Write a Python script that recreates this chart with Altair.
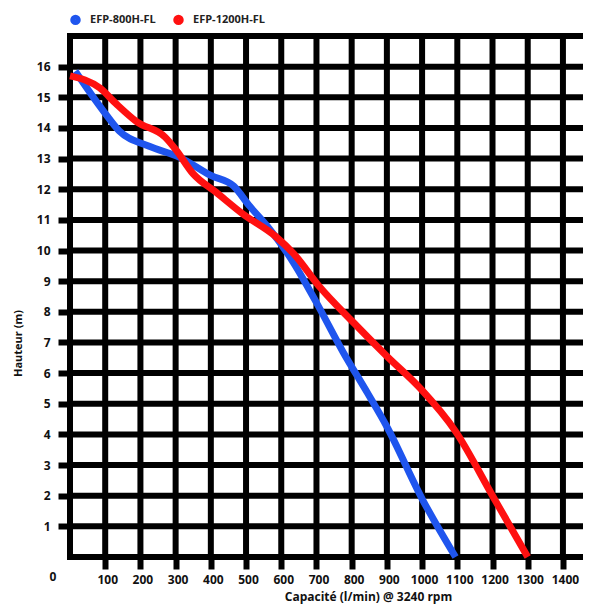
import altair as alt
import pandas as pd

# ---- data ----
series = ["EFP-800H-FL", "EFP-1200H-FL"]
colors = ["#1f55ee", "#ff1010"]

blue_x = [15, 95, 140, 225, 310, 400, 465, 510, 560, 635, 700, 775, 845, 900, 1000, 1095]
blue_y = [15.85, 14.55, 13.9, 13.4, 13.05, 12.45, 12.1, 11.45, 10.8, 9.6, 8.3, 6.7, 5.35, 4.25, 1.9, 0]

red_x = [0, 85, 130, 190, 270, 300, 350, 415, 490, 585, 635, 710, 805, 900, 995, 1095, 1200, 1300]
red_y = [15.7, 15.3, 14.8, 14.2, 13.7, 13.3, 12.5, 11.9, 11.2, 10.45, 9.9, 8.8, 7.65, 6.55, 5.5, 4.1, 2.0, 0]

x_ticks = list(range(100, 1500, 100))
y_ticks = list(range(1, 17))
x_grid = list(range(0, 1500, 100))
y_grid = list(range(0, 18))

FONT = "Open Sans"

df = pd.concat([
    pd.DataFrame({"x": blue_x, "y": blue_y, "s": series[0]}),
    pd.DataFrame({"x": red_x, "y": red_y, "s": series[1]}),
])

xscale = alt.Scale(domain=[0, 1457], nice=False, zero=False)
yscale = alt.Scale(domain=[0, 17], nice=False, zero=False)

xaxis = alt.Axis(
    values=x_ticks, format="d", title="Capacité (l/min) @ 3240 rpm",
    grid=False, domain=False, tickSize=12, tickWidth=6, tickColor="black",
    labelPadding=5, labelOffset=2, labelFontSize=12, labelFontWeight="bold",
    labelColor="#111", labelFont=FONT,
    titleFont=FONT, titleFontSize=12, titleFontWeight="bold", titleColor="#111",
    titleX=298, titleY=39, titleBaseline="middle", titleAnchor="start", titleAlign="center",
)
yaxis = alt.Axis(
    values=y_ticks, format="d", title="Hauteur (m)",
    grid=False, domain=False, tickSize=12, tickWidth=6, tickColor="black",
    labelPadding=8, labelFontSize=12, labelFontWeight="bold",
    labelColor="#111", labelFont=FONT,
    titleFont=FONT, titleFontSize=11, titleFontWeight="bold", titleColor="#111",
    titleX=-52, titleY=307, titleBaseline="middle", titleAnchor="start", titleAlign="center",
)

lines = alt.Chart(df).mark_line(strokeWidth=7, interpolate="monotone").encode(
    x=alt.X("x:Q", scale=xscale, axis=xaxis),
    y=alt.Y("y:Q", scale=yscale, axis=yaxis),
    color=alt.Color("s:N", scale=alt.Scale(domain=series, range=colors), sort=series,
                    legend=alt.Legend(title=None, orient="none", legendX=0, legendY=-22,
                                      direction="horizontal", symbolType="circle",
                                      symbolSize=30, symbolStrokeWidth=5,
                                      labelFontSize=11, labelFontWeight="bold",
                                      labelFont=FONT, labelColor="#222",
                                      columnPadding=9, labelOffset=9)),
)

hgrid = alt.Chart(pd.DataFrame({"y": y_grid})).mark_rule(
    color="black", strokeWidth=6, strokeCap="square"
).encode(y=alt.Y("y:Q", scale=yscale, axis=yaxis))

vgrid = alt.Chart(pd.DataFrame({"x": x_grid})).mark_rule(
    color="black", strokeWidth=6, strokeCap="square"
).encode(x=alt.X("x:Q", scale=xscale, axis=xaxis))

zero = alt.Chart(pd.DataFrame({"x": [0], "y": [0], "t": ["0"]})).mark_text(
    dx=-17, dy=20, fontSize=12, fontWeight="bold", font=FONT, color="#111"
).encode(x=alt.X("x:Q", scale=xscale, axis=xaxis),
         y=alt.Y("y:Q", scale=yscale, axis=yaxis), text="t:N")

chart = alt.layer(hgrid, vgrid, lines, zero).properties(
    width=513, height=521,
    autosize=alt.AutoSizeParams(type="none"),
    padding={"left": 62, "top": 28, "right": 0, "bottom": 48},
).configure_view(stroke=None).configure(background="white")

chart.save("out.html", embed_options={"renderer": "svg", "actions": False})
